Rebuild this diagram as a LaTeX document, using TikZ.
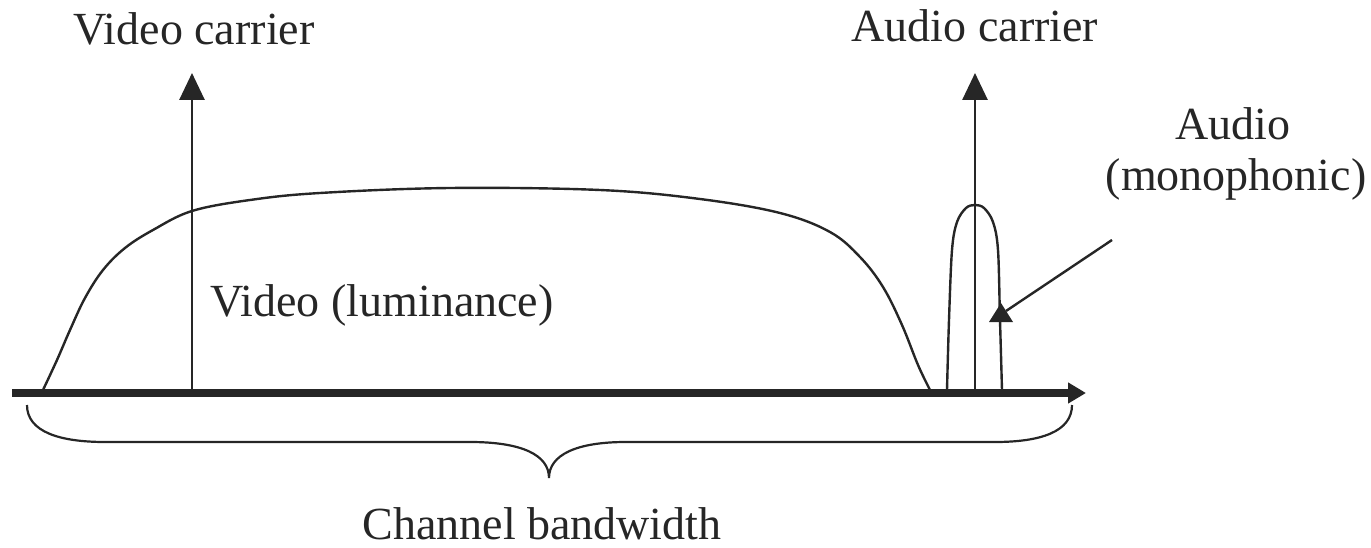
\documentclass[tikz,border=0pt]{standalone}
\usepackage{fontspec}
\setmainfont{Liberation Serif}
\usetikzlibrary{arrows.meta}
\definecolor{ink}{HTML}{262626}
\tikzset{
  lbl/.style={inner sep=0pt, font=\fontsize{46}{52}\selectfont, text=ink},
  carrier/.style={draw=ink, line width=2.8pt, -{Triangle[length=27pt,width=25pt]}},
  axisline/.style={draw=ink, line width=8pt, -{Triangle[length=18pt,width=20pt]}},
  curve/.style={draw=ink, line width=2.4pt},
  bracepath/.style={draw=ink, line width=2.2pt},
}
\begin{document}
\begin{tikzpicture}[x=1pt, y=-1pt]
\useasboundingbox (0,0) rectangle (1371,548);

% frequency axis
\coordinate (ax0) at (12,393);
\coordinate (ax1) at (1086,393);

% video spectrum envelope
\draw[curve] plot[smooth, tension=0.6] coordinates {
  (43,390) (57,360) (70,330) (85,298) (103,270) (125,248) (153,230)
  (192,211) (250,200) (320,193) (450,188) (600,190) (700,199) (780,213)
  (830,232) (860,257) (883,287) (902,325) (918,365) (930,390)};

% audio sideband bump
\draw[curve] plot[smooth, tension=0.55] coordinates {
  (947,390) (949,320) (952,250) (957,222) (966,208) (975,205) (984,208)
  (993,222) (998,250) (1000,320) (1002,390)};

% carriers
\coordinate (vcb) at (192,393);
\coordinate (vct) at (192,73);
\coordinate (acb) at (975,393);
\coordinate (act) at (975,73);
\draw[carrier] (vcb) -- (vct);
\draw[carrier] (acb) -- (act);

\draw[axisline] (ax0) -- (ax1);

% labels
\node[lbl, anchor=base] (vclabel) at (194,45) {Video carrier};
\node[lbl, anchor=base] (aclabel) at (975,42) {Audio carrier};
\node[lbl, anchor=base] (alabel) at (1233,140) {Audio};
\node[lbl, anchor=base] (monolabel) at (1236,191) {(monophonic)};
\node[lbl, anchor=base west] (lumlabel) at (210,316) {Video (luminance)};
\node[lbl, anchor=base] (bwlabel) at (542,539) {Channel bandwidth};

% pointer to the audio sideband
\coordinate (ptrstart) at (1112,240);
\coordinate (ptrend) at (1006,311);
\draw[curve] (ptrstart) -- (ptrend);
\fill[ink] (1001,303) -- (989,322) -- (1013,322) -- cycle;

% bandwidth brace
\draw[bracepath] (27,405) .. controls (27,432) and (60,442) .. (105,442)
  -- (470,442) .. controls (522,442) and (549,455) .. (549,478)
  .. controls (549,455) and (576,442) .. (626,442)
  -- (995,442) .. controls (1040,442) and (1072,432) .. (1072,405);
\end{tikzpicture}
\end{document}
